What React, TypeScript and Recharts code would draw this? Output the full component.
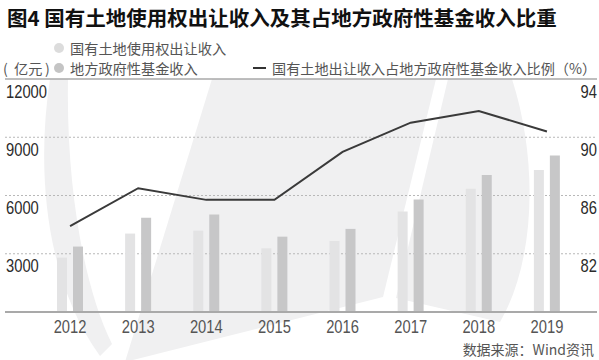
import React from 'react';
import {
  ComposedChart,
  Bar,
  Line,
  XAxis,
  YAxis,
  CartesianGrid,
  ReferenceLine,
} from 'recharts';

// 数据
const years = ['2012', '2013', '2014', '2015', '2016', '2017', '2018', '2019'];
const landTransfer = [2800, 4040, 4190, 3280, 3660, 5180, 6350, 7310];
const fundIncome = [3370, 4860, 5020, 3880, 4280, 5790, 7060, 8060];
const landShare = [83.9, 86.5, 85.7, 85.7, 89.0, 91.0, 91.8, 90.4];

const leftTicks = [0, 3000, 6000, 9000, 12000];
const rightTicks = [78, 82, 86, 90, 94];

const titleText = '图4 国有土地使用权出让收入及其占地方政府性基金收入比重';
const legendLand = '国有土地使用权出让收入';
const legendFund = '地方政府性基金收入';
const legendShare = '国有土地出让收入占地方政府性基金收入比例（%）';
const unitText = '亿元';
const sourceText = '数据来源：Wind资讯';

const data = years.map((year, i) => ({
  year,
  land: landTransfer[i],
  fund: fundIncome[i],
  share: landShare[i],
}));

const W = 599;
const H = 360;
const cjk = '"Noto Sans CJK SC", "Noto Sans", sans-serif';
const sans = '"Liberation Sans", Arial, sans-serif';
// 窄体数字：没有窄体字体，用横向压缩代替
const SQUEEZE = 0.82;

const LIGHT = '#e3e3e4';
const DARK = '#c7c7c8';
const WM = '#f0f0f1';

const NarrowText = ({ x, y, anchor, fill, children }: any) => (
  <text
    transform={`translate(${x},${y}) scale(${SQUEEZE},1)`}
    textAnchor={anchor}
    dominantBaseline='central'
    fontFamily={sans}
    fontSize={18}
    fill={fill}
  >
    {children}
  </text>
);

const LeftTick = (props: any) => {
  const { y, payload, index } = props;
  if (index === 0) return <g />;
  return <NarrowText x={6} y={y + 12} anchor='start' fill='#2b2b2b'>{payload.value}</NarrowText>;
};

const RightTick = (props: any) => {
  const { y, payload, index } = props;
  if (index === 0) return <g />;
  return <NarrowText x={W - 2} y={y + 12} anchor='end' fill='#2b2b2b'>{payload.value}</NarrowText>;
};

const YearTick = (props: any) => {
  const { x, y, payload } = props;
  return <NarrowText x={x} y={y + 14} anchor='middle' fill='#555'>{payload.value}</NarrowText>;
};

function Backdrop() {
  return (
    <svg width={W} height={H} style={{ position: 'absolute', left: 0, top: 0 }}>
      {/* 水印 */}
      <path d='M 50 79 C 36 170, 45 280, 100 356 L 112 344 C 85 290, 66 190, 68 79 Z' fill={WM} />
      <path d='M 212 79 L 436 79 L 383 297 L 125 362 Z' fill={WM} />
      <path d='M 448 79 L 512 79 C 538 160, 536 260, 500 322 L 396 298 Z' fill={WM} />

      <text x={7} y={17} dominantBaseline='central' fontFamily={cjk} fontWeight={700} fontSize={20.5} fill='#111'>
        {titleText}
      </text>

      <circle cx={59} cy={48} r={5} fill='#dcdcdc' />
      <text x={70} y={48} dominantBaseline='central' fontFamily={cjk} fontSize={14.2} fill='#555'>
        {legendLand}
      </text>

      <text x={3} y={68} dominantBaseline='central' fontFamily={cjk} fontSize={14.2} fill='#555'>(</text>
      <text x={14} y={68} dominantBaseline='central' fontFamily={cjk} fontSize={14.2} fill='#555'>{unitText}</text>
      <text x={45} y={68} dominantBaseline='central' fontFamily={cjk} fontSize={14.2} fill='#555'>)</text>
      <circle cx={59} cy={68} r={5} fill='#c4c4c4' />
      <text x={70} y={68} dominantBaseline='central' fontFamily={cjk} fontSize={14.2} fill='#555'>
        {legendFund}
      </text>

      <line x1={253} x2={266} y1={68} y2={68} stroke='#333' strokeWidth={2} />
      <text x={272} y={68} dominantBaseline='central' fontFamily={cjk} fontSize={14.15} fill='#555'>
        {legendShare}
      </text>

      <text x={W - 5} y={349} textAnchor='end' dominantBaseline='central' fontFamily={cjk} fontSize={14} fill='#555'>
        {sourceText}
      </text>
    </svg>
  );
}

export default function App() {
  return (
    <div style={{ position: 'absolute', left: 0, top: 0, width: W, height: H, background: '#fff' }}>
      <Backdrop />
      <div style={{ position: 'absolute', left: 0, top: 0 }}>
        <ComposedChart
          width={W}
          height={H}
          data={data}
          margin={{ top: 79, right: 1, bottom: 18, left: 4 }}
          barGap={6}
        >
          <CartesianGrid
            yAxisId='l'
            vertical={false}
            horizontalValues={[3000, 6000, 9000]}
            stroke='#b8b8b8'
            strokeDasharray='2 2'
          />
          <XAxis
            dataKey='year'
            padding={{ left: 31, right: 16 }}
            axisLine={{ stroke: '#a9a9a9', strokeWidth: 2 }}
            tickLine={false}
            tickSize={0}
            tickMargin={0}
            height={30}
            tick={<YearTick />}
            interval={0}
          />
          <YAxis
            yAxisId='l'
            width={1}
            domain={[0, 12000]}
            ticks={leftTicks}
            axisLine={false}
            tickLine={false}
            tick={<LeftTick />}
          />
          <YAxis
            yAxisId='r'
            orientation='right'
            width={1}
            domain={[78, 94]}
            ticks={rightTicks}
            axisLine={false}
            tickLine={false}
            tick={<RightTick />}
          />
          <ReferenceLine yAxisId='l' y={12000} stroke='#a9a9a9' strokeWidth={1.5} ifOverflow='visible' />
          <Bar yAxisId='l' dataKey='land' fill={LIGHT} barSize={10} isAnimationActive={false} />
          <Bar yAxisId='l' dataKey='fund' fill={DARK} barSize={10} isAnimationActive={false} />
          <Line
            yAxisId='r'
            dataKey='share'
            type='linear'
            stroke='#3a3a3a'
            strokeWidth={2}
            dot={false}
            activeDot={false}
            isAnimationActive={false}
          />
        </ComposedChart>
      </div>
    </div>
  );
}
